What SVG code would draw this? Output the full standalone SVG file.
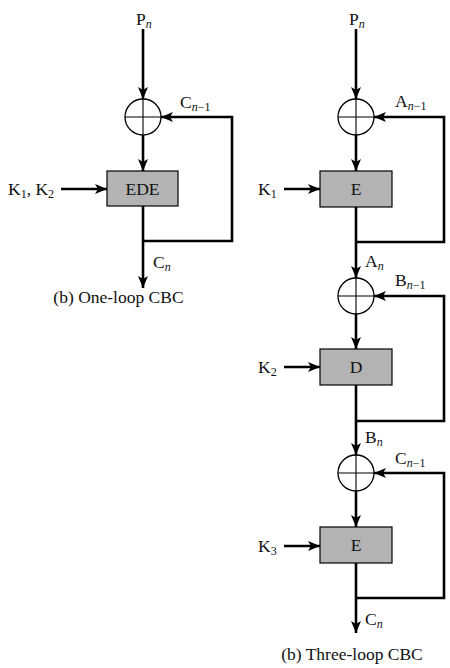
<svg xmlns="http://www.w3.org/2000/svg" width="450" height="668" viewBox="0 0 450 668">
<style>
text{font-family:"Liberation Serif","Times New Roman",serif;font-size:17.5px;fill:#111}
.s{font-size:12px}
.i{font-style:italic}
.ln{fill:none;stroke:#000;stroke-width:2.6}
.xor circle{fill:#fff;stroke:#000;stroke-width:1.3}
.xor line{stroke:#000;stroke-width:1.1}
.box rect{fill:#b3b3b3;stroke:#000;stroke-width:1.2}
</style>
<defs>
<marker id="ah" viewBox="0 0 12 10" refX="12" refY="5" markerWidth="12" markerHeight="10" markerUnits="userSpaceOnUse" orient="auto">
<path d="M0,0 L12,5 L0,10 L3,5 z" fill="#000"/>
</marker>
</defs>

<g id="connectors">
<path class="ln" d="M143,29 V99" marker-end="url(#ah)"/>
<path class="ln" d="M143,135 V171" marker-end="url(#ah)"/>
<path class="ln" d="M61,189 H107" marker-end="url(#ah)"/>
<path class="ln" d="M143,206 V288" marker-end="url(#ah)"/>
<path class="ln" d="M143,241 H232 V117 H161" marker-end="url(#ah)"/>
<path class="ln" d="M356,29 V99" marker-end="url(#ah)"/>
<path class="ln" d="M356,135 V171" marker-end="url(#ah)"/>
<path class="ln" d="M284,189 H320" marker-end="url(#ah)"/>
<path class="ln" d="M356,207 V278" marker-end="url(#ah)"/>
<path class="ln" d="M356,242 H444 V117 H374" marker-end="url(#ah)"/>
<path class="ln" d="M356,314 V349" marker-end="url(#ah)"/>
<path class="ln" d="M284,367 H320" marker-end="url(#ah)"/>
<path class="ln" d="M356,385 V455" marker-end="url(#ah)"/>
<path class="ln" d="M356,421 H444 V296 H374" marker-end="url(#ah)"/>
<path class="ln" d="M356,491 V527" marker-end="url(#ah)"/>
<path class="ln" d="M284,546 H320" marker-end="url(#ah)"/>
<path class="ln" d="M356,563 V633" marker-end="url(#ah)"/>
<path class="ln" d="M356,598 H444 V473 H374" marker-end="url(#ah)"/>
</g>

<g id="xor-left" class="xor"><circle cx="143" cy="117" r="18"/><line x1="125" y1="117" x2="161" y2="117"/><line x1="143" y1="99" x2="143" y2="135"/></g>
<g id="ede" class="box"><rect x="107" y="171" width="71" height="35"/><text x="142.5" y="195" text-anchor="middle">EDE</text></g>

<g id="xor-1" class="xor"><circle cx="356" cy="117" r="18"/><line x1="338" y1="117" x2="374" y2="117"/><line x1="356" y1="99" x2="356" y2="135"/></g>
<g id="e1" class="box"><rect x="320" y="171" width="72" height="36"/><text x="356" y="195" text-anchor="middle">E</text></g>

<g id="xor-2" class="xor"><circle cx="356" cy="296" r="18"/><line x1="338" y1="296" x2="374" y2="296"/><line x1="356" y1="278" x2="356" y2="314"/></g>
<g id="d2" class="box"><rect x="320" y="349" width="72" height="36"/><text x="356" y="373" text-anchor="middle">D</text></g>

<g id="xor-3" class="xor"><circle cx="356" cy="473" r="18"/><line x1="338" y1="473" x2="374" y2="473"/><line x1="356" y1="455" x2="356" y2="491"/></g>
<g id="e3" class="box"><rect x="320" y="527" width="72" height="36"/><text x="356" y="551" text-anchor="middle">E</text></g>

<g id="labels">
<text x="136" y="25">P<tspan class="s i" dy="3">n</tspan></text>
<text x="180" y="108">C<tspan class="s" dy="3"><tspan class="i">n</tspan>−1</tspan></text>
<text x="8" y="195">K<tspan class="s" dy="3">1</tspan><tspan dy="-3">, K</tspan><tspan class="s" dy="3">2</tspan></text>
<text x="153" y="268">C<tspan class="s i" dy="3">n</tspan></text>
<text x="118.5" y="303" text-anchor="middle">(b) One-loop CBC</text>

<text x="349" y="25">P<tspan class="s i" dy="3">n</tspan></text>
<text x="395" y="107">A<tspan class="s" dy="3"><tspan class="i">n</tspan>−1</tspan></text>
<text x="258" y="195">K<tspan class="s" dy="3">1</tspan></text>
<text x="365" y="267">A<tspan class="s i" dy="3">n</tspan></text>
<text x="395" y="286">B<tspan class="s" dy="3"><tspan class="i">n</tspan>−1</tspan></text>
<text x="258" y="373">K<tspan class="s" dy="3">2</tspan></text>
<text x="365" y="443">B<tspan class="s i" dy="3">n</tspan></text>
<text x="395" y="464">C<tspan class="s" dy="3"><tspan class="i">n</tspan>−1</tspan></text>
<text x="258" y="552">K<tspan class="s" dy="3">3</tspan></text>
<text x="365" y="625">C<tspan class="s i" dy="3">n</tspan></text>
<text x="352" y="660" text-anchor="middle">(b) Three-loop CBC</text>
</g>
</svg>
